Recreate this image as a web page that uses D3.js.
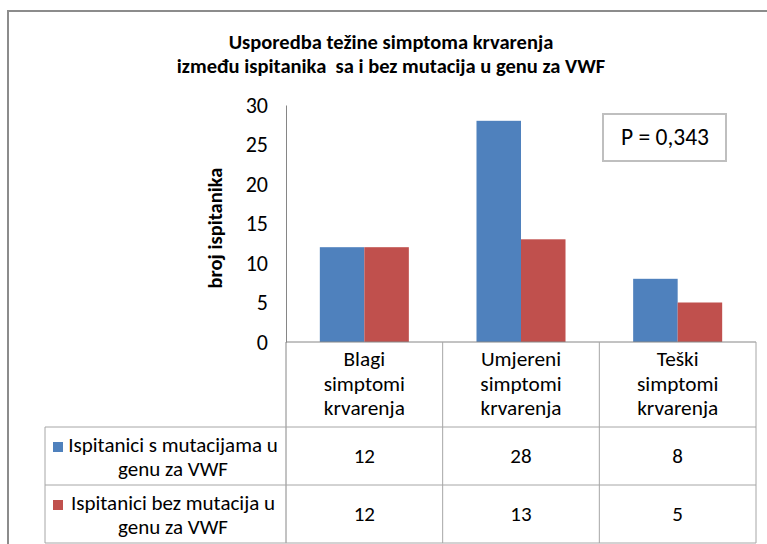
<!DOCTYPE html>
<html>
<head>
<meta charset="utf-8">
<script src="https://cdn.jsdelivr.net/npm/d3@7"></script>
<style>
  body { margin: 0; background: #fff; }
  svg text { font-family: Carlito, Lato, "Liberation Sans", sans-serif; fill: #000; }
</style>
</head>
<body>
<div id="chart"></div>
<script>
// chart data
var categories = ["Blagi simptomi krvarenja", "Umjereni simptomi krvarenja", "Teški simptomi krvarenja"];
var seriesNames = ["Ispitanici s mutacijama u genu za VWF", "Ispitanici bez mutacija u genu za VWF"];
var seriesLines = [["Ispitanici s mutacijama u", "genu za VWF"], ["Ispitanici bez mutacija u", "genu za VWF"]];
var withMutation = [12, 28, 8];
var withoutMutation = [12, 13, 5];
var yTicks = [0, 5, 10, 15, 20, 25, 30];
var titleLines = ["Usporedba težine simptoma krvarenja", "između ispitanika  sa i bez mutacija u genu za VWF"];
var yTitle = "broj ispitanika";
var pText = "P = 0,343";

var colors = ["#4F81BD", "#C0504D"];
var values = [withMutation, withoutMutation];

var svgWidth = 767, svgHeight = 544;

var svg = d3.select("#chart")
    .append("svg")
    .attr("width", svgWidth)
    .attr("height", svgHeight);

// outer chart border
svg.append("rect")
    .attr("x", 8).attr("y", 11)
    .attr("width", 780).attr("height", 560)
    .attr("fill", "none")
    .attr("stroke", "#8c8c8c")
    .attr("stroke-width", 2);

// title
svg.append("g").selectAll("text")
    .data(titleLines)
    .enter()
    .append("text")
    .attr("x", 391)
    .attr("y", (d, i) => 42 + i * 24)
    .attr("dy", "0.35em")
    .attr("text-anchor", "middle")
    .style("font-weight", "bold")
    .style("font-size", "20.5px")
    .style("white-space", "pre")
    .text(d => d);

// scales
var plotTop = 105, plotBottom = 342, plotLeft = 286, plotRight = 756;

var x0 = d3.scaleBand()
    .domain(categories)
    .range([plotLeft, plotRight]);

var x1 = d3.scaleBand()
    .domain([0, 1])
    .range([0, x0.bandwidth()])
    .paddingOuter(0.76);

var y = d3.scaleLinear()
    .domain([0, 30])
    .range([plotBottom, plotTop]);

// bars
var groups = svg.append("g").selectAll("g")
    .data(categories)
    .enter()
    .append("g")
    .attr("transform", d => `translate(${x0(d)},0)`);

groups.selectAll("rect")
    .data((d, i) => values.map((v, s) => ({ s: s, v: v[i] })))
    .enter()
    .append("rect")
    .attr("x", d => x1(d.s))
    .attr("width", x1.bandwidth())
    .attr("y", d => y(d.v))
    .attr("height", d => y(0) - y(d.v))
    .attr("fill", d => colors[d.s]);

// y axis
var leftAxis = d3.axisLeft(y).tickValues(yTicks).tickSize(0).tickPadding(18);
var yAxisG = svg.append("g")
    .attr("transform", `translate(${plotLeft},0)`)
    .call(leftAxis);
yAxisG.select(".domain").attr("stroke", "#868686");
yAxisG.selectAll("text")
    .style("font-size", "22px")
    .style("font-family", "Carlito, Lato, 'Liberation Sans', sans-serif")
    .attr("fill", "#000");

svg.append("text")
    .attr("transform", "translate(215,228) rotate(-90)")
    .attr("dy", "0.35em")
    .attr("text-anchor", "middle")
    .style("font-weight", "bold")
    .style("font-size", "20.5px")
    .text(yTitle);

// data table
var catRowBottom = 427, rowH = 58, legendLeft = 45;
var tableBottom = catRowBottom + rowH * 2;
var lineColor = "#a6a6a6";

var table = svg.append("g");

// baseline
table.append("line")
    .attr("x1", plotLeft).attr("x2", plotRight)
    .attr("y1", plotBottom).attr("y2", plotBottom)
    .attr("stroke", "#868686");

// vertical column lines
var colEdges = categories.map(c => x0(c)).concat([plotRight]);
table.selectAll(".vline")
    .data(colEdges)
    .enter()
    .append("line")
    .attr("x1", d => d).attr("x2", d => d)
    .attr("y1", plotBottom).attr("y2", tableBottom)
    .attr("stroke", (d, i) => i === 0 ? "#868686" : lineColor);

table.append("line")
    .attr("x1", legendLeft).attr("x2", legendLeft)
    .attr("y1", catRowBottom).attr("y2", tableBottom)
    .attr("stroke", lineColor);

// horizontal row lines
table.selectAll(".hline")
    .data([catRowBottom, catRowBottom + rowH, tableBottom])
    .enter()
    .append("line")
    .attr("x1", legendLeft).attr("x2", plotRight)
    .attr("y1", d => d).attr("y2", d => d)
    .attr("stroke", lineColor);

// category labels
categories.forEach(function(c) {
    var words = c.split(" ");
    table.append("g").selectAll("text")
        .data(words)
        .enter()
        .append("text")
        .attr("x", x0(c) + x0.bandwidth() / 2)
        .attr("y", (d, i) => 359 + i * 24.5)
        .attr("dy", "0.35em")
        .attr("text-anchor", "middle")
        .style("font-size", "21.3px")
        .attr("fill", "#000")
        .text(d => d);
});

// series rows
seriesNames.forEach(function(name, s) {
    var top = catRowBottom + s * rowH;

    table.append("rect")
        .attr("x", 53)
        .attr("y", top + 15)
        .attr("width", 10)
        .attr("height", 10)
        .attr("fill", colors[s]);

    table.append("g").selectAll("text")
        .data(seriesLines[s])
        .enter()
        .append("text")
        .attr("x", 173)
        .attr("y", (d, i) => top + 17.5 + i * 24)
        .attr("dy", "0.35em")
        .attr("text-anchor", "middle")
        .style("font-size", "21px")
        .text(d => d);

    table.append("g").selectAll("text")
        .data(values[s])
        .enter()
        .append("text")
        .attr("x", (d, i) => x0(categories[i]) + x0.bandwidth() / 2)
        .attr("y", top + rowH / 2)
        .attr("dy", "0.35em")
        .attr("text-anchor", "middle")
        .style("font-size", "21px")
        .text(d => d);
});

// p value box
svg.append("rect")
    .attr("x", 603).attr("y", 114)
    .attr("width", 123).attr("height", 47)
    .attr("fill", "#fff")
    .attr("stroke", "#bfbfbf")
    .attr("stroke-width", 2);

svg.append("text")
    .attr("x", 665).attr("y", 137)
    .attr("dy", "0.35em")
    .attr("text-anchor", "middle")
    .style("font-size", "23.5px")
    .text(pText);
</script>
</body>
</html>
